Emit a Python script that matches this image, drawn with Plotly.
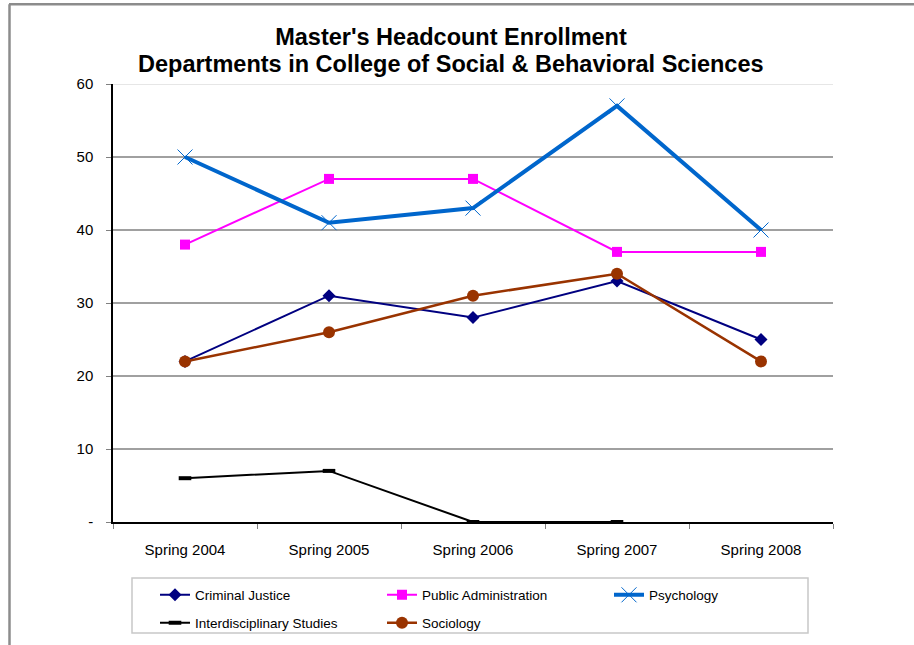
import plotly.graph_objects as go

categories = ["Spring 2004", "Spring 2005", "Spring 2006", "Spring 2007", "Spring 2008"]
criminal_justice = [22, 31, 28, 33, 25]
public_admin = [38, 47, 47, 37, 37]
psychology = [50, 41, 43, 57, 40]
interdisciplinary = [6, 7, 0, 0, None]
sociology = [22, 26, 31, 34, 22]
y_ticks = [0, 10, 20, 30, 40, 50, 60]
y_ticktext = ["-", "10", "20", "30", "40", "50", "60"]
title_line1 = "Master's Headcount Enrollment"
title_line2 = "Departments in College of Social & Behavioral Sciences"

FONT = "Liberation Sans, Arial, sans-serif"

fig = go.Figure()
fig.add_trace(go.Scatter(x=categories, y=criminal_justice, name="Criminal Justice",
                         mode="lines+markers", line=dict(color="#000080", width=2),
                         marker=dict(symbol="diamond", size=10, color="#000080"),
                         legend="legend"))
fig.add_trace(go.Scatter(x=categories, y=public_admin, name="Public Administration",
                         mode="lines+markers", line=dict(color="#FF00FF", width=2),
                         marker=dict(symbol="square", size=10, color="#FF00FF"),
                         legend="legend"))
fig.add_trace(go.Scatter(x=categories, y=psychology, name="Psychology",
                         mode="lines+markers", line=dict(color="#0066CC", width=4),
                         marker=dict(symbol="x-thin-open", size=15,
                                     line=dict(color="#3399FF", width=1)),
                         legend="legend"))
fig.add_trace(go.Scatter(x=categories, y=interdisciplinary, name="Interdisciplinary Studies",
                         mode="lines+markers", line=dict(color="#000000", width=2),
                         marker=dict(symbol="line-ew-open", size=9,
                                     line=dict(color="#000000", width=4)),
                         legend="legend2"))
fig.add_trace(go.Scatter(x=categories, y=sociology, name="Sociology",
                         mode="lines+markers", line=dict(color="#993300", width=2.5),
                         marker=dict(symbol="circle", size=12, color="#993300"),
                         legend="legend2"))

# figure placed at the page origin (body margin removed below)
FIG_W, FIG_H = 914, 653

# plot area in screen pixels
PLOT_L, PLOT_R = 113, 833
PLOT_T, PLOT_B = 84.3, 522
PW, PH = PLOT_R - PLOT_L, PLOT_B - PLOT_T


def px_x(v):
    return (v - PLOT_L) / PW


def px_y(v):
    return (PLOT_B - v) / PH


legend_common = dict(orientation="h", x=px_x(155), xanchor="left", yanchor="middle",
                     entrywidth=182, entrywidthmode="pixels",
                     font=dict(family=FONT, size=13.5, color="#000000"),
                     bgcolor="rgba(0,0,0,0)", borderwidth=0, traceorder="normal")

fig.update_layout(
    width=FIG_W, height=FIG_H,
    margin=dict(l=PLOT_L, r=FIG_W - PLOT_R, t=PLOT_T, b=FIG_H - PLOT_B),
    paper_bgcolor="white", plot_bgcolor="white",
    font=dict(family=FONT, color="#000000", size=15),
    title=dict(text="<b>" + title_line1 + "</b>",
               font=dict(family=FONT, size=23.5, color="#000000"),
               x=451 / FIG_W, xref="container", xanchor="center",
               y=1 - 36.5 / FIG_H, yref="container", yanchor="middle"),
    showlegend=True,
    legend=dict(legend_common, y=px_y(595)),
    legend2=dict(legend_common, y=px_y(623)),
)
fig.add_annotation(text="<b>" + title_line2 + "</b>", showarrow=False,
                   xref="paper", yref="paper", x=px_x(451), y=px_y(64.5),
                   xanchor="center", yanchor="middle",
                   font=dict(family=FONT, size=23.5, color="#000000"))

fig.update_xaxes(type="category", range=[-0.5, 4.5], tickson="boundaries",
                 ticks="outside", ticklen=5, tickcolor="#808080",
                 showline=True, linecolor="#000000", linewidth=1.5,
                 showgrid=False, zeroline=False, ticklabelstandoff=13,
                 tickfont=dict(size=15))
fig.update_yaxes(range=[0, 60], tickvals=y_ticks, ticktext=y_ticktext,
                 ticks="outside", ticklen=5, tickcolor="#808080",
                 showline=True, linecolor="#000000", linewidth=1.5,
                 showgrid=True, gridcolor="#A0A0A0", gridwidth=2,
                 zeroline=False, ticklabelstandoff=10, tickfont=dict(size=15))

# lighter top gridline
fig.add_shape(type="line", xref="paper", yref="y", x0=0, x1=1, y0=y_ticks[-1], y1=y_ticks[-1],
              line=dict(color="#E6E6E6", width=2), layer="between")
# legend frame
fig.add_shape(type="rect", xref="paper", yref="paper",
              x0=px_x(132), x1=px_x(808), y0=px_y(633), y1=px_y(578),
              line=dict(color="#C8C8C8", width=1.5), fillcolor="rgba(0,0,0,0)")
# outer chart border (left and top edges visible)
fig.add_shape(type="line", xref="paper", yref="paper",
              x0=px_x(9), x1=px_x(914), y0=px_y(4.5), y1=px_y(4.5),
              line=dict(color="#8C8C8C", width=2.5))
fig.add_shape(type="line", xref="paper", yref="paper",
              x0=px_x(9.5), x1=px_x(9.5), y0=px_y(4.5), y1=px_y(FIG_H),
              line=dict(color="#8C8C8C", width=2.5))

fig.write_html("out.html", config={"displayModeBar": False},
               post_script="document.body.style.margin='0px';")
